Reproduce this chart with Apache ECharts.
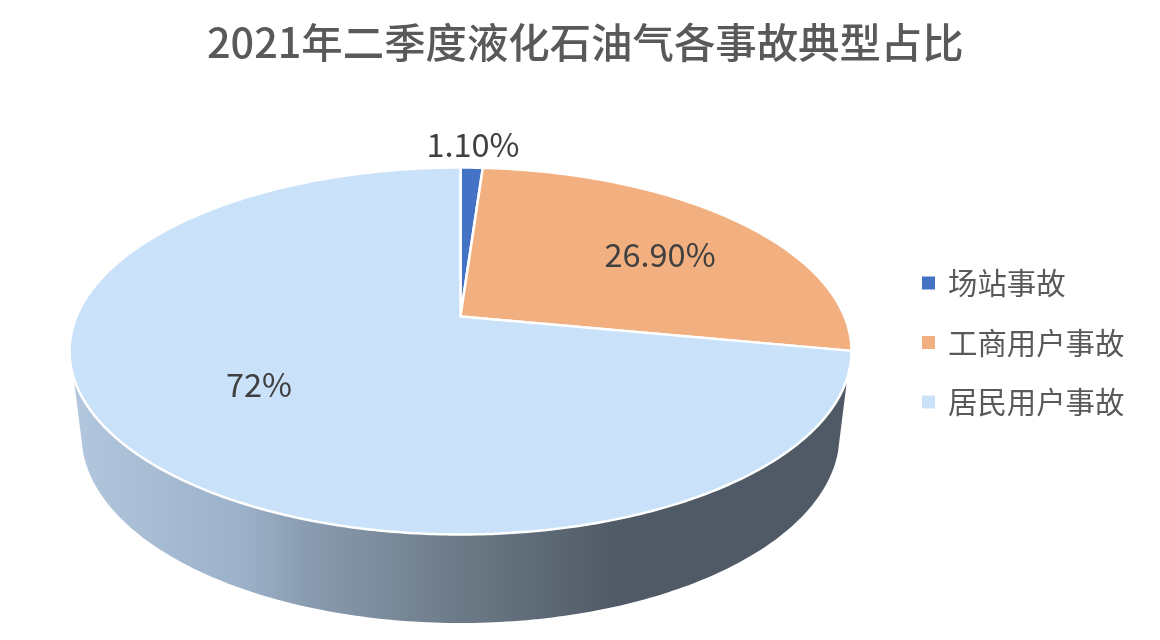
<!DOCTYPE html>
<html><head><meta charset="utf-8">
<style>html,body{margin:0;padding:0;background:#fff}#c{width:1160px;height:640px}</style>
<script src="https://cdn.jsdelivr.net/npm/echarts@6/dist/echarts.min.js"></script>
</head><body><div id="c"></div>
<script>
const categories = ['场站事故', '工商用户事故', '居民用户事故'];
const shares = [1.1, 26.9, 72];
const shareLabels = ['1.10%', '26.90%', '72%'];
const colors = ['#4472C4', '#F2AF80', '#CAE1FA'];
const titleText = '2021年二季度液化石油气各事故典型占比';

const FONT = '"Noto Sans CJK SC","Noto Sans",sans-serif';
// perspective projection of the pie disc onto the page
const disc = {cx: 460.5, cy: 316.5, a: 384, b: 177, w: 0.188};
function rim(deg) {
  const t = deg * Math.PI / 180, u = Math.sin(t), v = Math.cos(t);
  const d = 1 + disc.w * v;
  return [disc.cx + disc.a * u / d, disc.cy - disc.b * v / d];
}
const base = {cx: 460.5, cy: 435, rx: 379, ry: 188};
const labelAnchors = [[473, 145], [660, 255], [259, 385]];

function wallItem() {
  const pts = [];
  for (let d = 109; d <= 251; d += 1) pts.push(rim(d));
  // lower edge of the wall, walked from the left side to the right side
  for (let d = 85; d >= -85; d -= 1) {
    const t = d * Math.PI / 180;
    pts.push([base.cx - base.rx * Math.sin(t), base.cy + base.ry * Math.cos(t)]);
  }
  return {
    type: 'polygon', shape: {points: pts},
    style: {fill: new echarts.graphic.LinearGradient(0, 0, 1, 0, [
      {offset: 0, color: '#B2C7DD'},
      {offset: 0.22, color: '#9BB1C9'},
      {offset: 0.30, color: '#8A9CB0'},
      {offset: 0.50, color: '#6C7A87'},
      {offset: 0.70, color: '#505A66'},
      {offset: 1, color: '#505A66'}
    ])}
  };
}
function sliceItem(i, start, share) {
  const pts = [[disc.cx, disc.cy]];
  const a0 = start * 3.6, a1 = (start + share) * 3.6;
  const n = Math.max(6, Math.ceil((a1 - a0) * 2));
  for (let k = 0; k <= n; k++) pts.push(rim(a0 + (a1 - a0) * k / n));
  return {type: 'group', children: [
    {type: 'polygon', shape: {points: pts},
     style: {fill: colors[i], stroke: '#fff', lineWidth: 2.5, lineJoin: 'round'}},
    {type: 'text', z2: 10, x: labelAnchors[i][0], y: labelAnchors[i][1],
     style: {text: shareLabels[i], fill: '#404040', font: '32.5px ' + FONT, align: 'center', verticalAlign: 'middle'}}
  ]};
}
let acc = 0;
const sliceSeries = categories.map((name, i) => {
  const start = acc; acc += shares[i];
  return {
    name, type: 'custom', coordinateSystem: 'none', silent: true, animation: false,
    itemStyle: {color: colors[i]},
    data: [[start, shares[i]]],
    renderItem: (p, api) => sliceItem(i, api.value(0), api.value(1))
  };
});

const chart = echarts.init(document.getElementById('c'), null, {renderer: 'canvas'});
chart.setOption({
  backgroundColor: '#fff',
  animation: false,
  title: {text: titleText, left: 202, top: 17, padding: 5, textStyle: {fontFamily: FONT, fontSize: 41.4, fontWeight: 500, color: '#595959'}},
  legend: {
    data: categories, orient: 'vertical', left: 922, top: 267, padding: 0, icon: 'rect',
    itemWidth: 13, itemHeight: 13, itemGap: 27.5, selectedMode: false,
    textStyle: {fontFamily: FONT, fontSize: 29.4, color: '#595959', lineHeight: 32, padding: [0, 0, 0, 8]}
  },
  series: [{
    type: 'custom', coordinateSystem: 'none', silent: true, animation: false,
    data: [[1]], renderItem: () => wallItem()
  }].concat(sliceSeries)
});
</script></body></html>
